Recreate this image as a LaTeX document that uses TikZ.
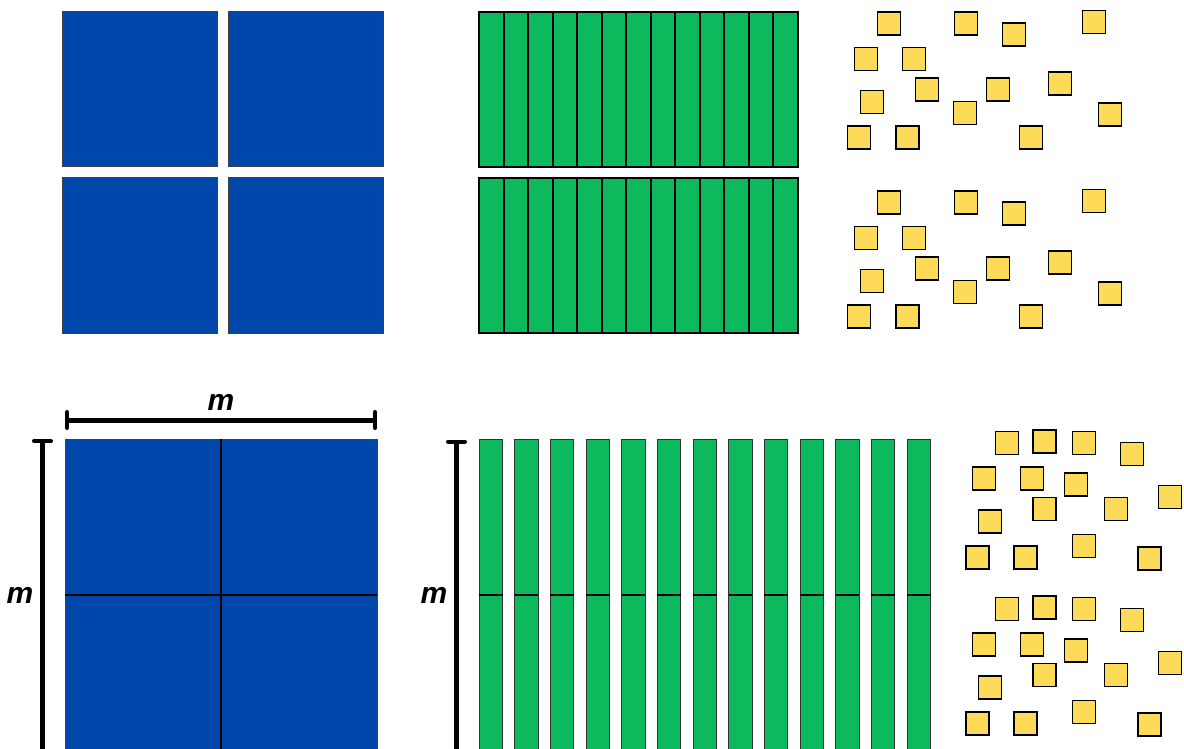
\documentclass[tikz,border=0pt]{standalone}
\usepackage{fontspec}
\setmainfont{Liberation Sans}
\definecolor{tileblue}{RGB}{0,71,171}
\definecolor{tilegreen}{RGB}{12,185,92}
\definecolor{tileyellow}{RGB}{253,219,88}
\begin{document}
\begin{tikzpicture}[x=1pt,y=-1pt,
  bluetile/.style={fill=tileblue,draw=black!75,line width=1pt},
  greenstripA/.style={fill=tilegreen,draw=black,line width=2pt},
  greenstripB/.style={fill=tilegreen,draw=black!80,line width=1pt},
  unittile/.style={fill=tileyellow,draw=black,line width=1.8pt,minimum size=23pt,inner sep=0pt,outer sep=0pt},
  bracket/.style={draw=black,line width=5pt},
  bracketend/.style={draw=black,line width=4pt,line cap=round},
  mlabel/.style={font=\fontsize{30}{36}\selectfont\bfseries\itshape,inner sep=0pt,anchor=base}
]
\clip (0,0) rectangle (1184,749);
\fill[white] (0,0) rectangle (1184,749);

% ---- top blue squares
\foreach \i/\x in {0/62,1/228}{
  \foreach \j/\y in {0/12,1/178}{
    \draw[bluetile] (\x,\y) rectangle ++(155,155);
  }
}

% ---- top green strips
\foreach \y in {12,178}{
  \foreach \k in {0,...,12}{
    \draw[greenstripA] ({479+\k*24.54},\y) rectangle ++(24.54,155);
  }
}

% ---- top yellow units (two groups)
\foreach \dy/\g in {0/a,179/b}{
  \foreach \x/\y [count=\n] in {889/23.5,966/23.5,1014/34.5,1094/22,866/59,914/59,927/89.5,998/89.5,1060/83.5,872/102,965/113,1110/114.5,859/137.5,907.5/137.5,1031/137.5}{
    \node[unittile] (u\g\n) at (\x,\y+\dy) {};
  }
}

% ---- bottom blue square m x m
\draw[bluetile] (65,439) rectangle (377,751);
\draw[black,line width=1.5pt] (221,439) -- (221,751);
\draw[black,line width=1.5pt] (65,595) -- (377,595);

% top bracket
\coordinate (tbL) at (67,420);
\coordinate (tbR) at (375,420);
\draw[bracket] (tbL) -- (tbR);
\draw[bracketend] (67,412) -- (67,428);
\draw[bracketend] (375,412) -- (375,428);
\node[mlabel] (mtop) at (221,410) {m};

% left bracket
\coordinate (lbT) at (42,441);
\coordinate (lbB) at (42,751);
\draw[bracket] (lbT) -- (lbB);
\draw[bracketend] (34,441) -- (51,441);
\draw[bracketend] (34,751) -- (51,751);
\node[mlabel] (mleft) at (20,603) {m};

% ---- bottom green strips
\foreach \k in {0,...,12}{
  \draw[greenstripB] ({479+\k*35.67},439) rectangle ++(23.5,312);
  \draw[black,line width=2pt] ({479+\k*35.67},594.5) -- ++(23.5,0);
}

% green bracket
\coordinate (gbT) at (456.5,441.5);
\coordinate (gbB) at (456.5,751);
\draw[bracket] (gbT) -- (gbB);
\draw[bracketend] (448,441.5) -- (465,441.5);
\draw[bracketend] (448,751) -- (465,751);
\node[mlabel] (mgreen) at (434,603) {m};

% ---- bottom yellow units (two groups)
\foreach \dy/\g in {0/c,166/d}{
  \foreach \x/\y [count=\n] in {1007/443,1044.5/441.5,1084/443,1132/454,984/478.5,1032/478.5,1076/484.5,1170/497,1044.5/509,1116/509,990/521.5,977.5/557.5,1025.5/557.5,1084/546,1149.5/558.5}{
    \node[unittile] (u\g\n) at (\x,\y+\dy) {};
  }
}
\end{tikzpicture}
\end{document}
